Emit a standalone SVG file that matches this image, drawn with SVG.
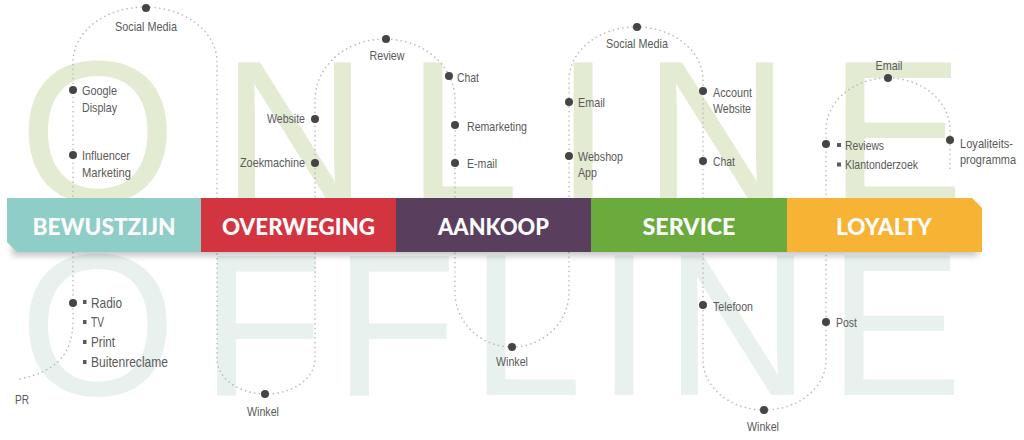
<svg xmlns="http://www.w3.org/2000/svg" width="1024" height="440" viewBox="0 0 1024 440">
<defs>
<style>
.bgon{font-family:"Liberation Sans",Arial,sans-serif;font-size:202px;fill:#e3ebd2}
.bgoff{font-family:"Liberation Sans",Arial,sans-serif;font-size:202px;fill:#e8f1ee}
.lbl{font-family:"Liberation Sans",Arial,sans-serif;font-size:13px;fill:#5a5a5a}
.lst{font-family:"Liberation Sans",Arial,sans-serif;font-size:15px;fill:#5a5a5a}
.stg{font-family:Lato,"Open Sans","Liberation Sans",sans-serif;font-weight:900;font-size:23px;fill:#fbfbfb;text-anchor:middle}
.dot{fill:#454545}
.bul{fill:#5a5a5a}
.route{fill:none;stroke:#b9b9b9;stroke-width:1.6;stroke-dasharray:0.1 4.6;stroke-linecap:round}
</style>
<filter id="sh" x="-5%" y="-30%" width="110%" height="180%">
<feGaussianBlur stdDeviation="3"/>
</filter>
</defs>
<rect width="1024" height="440" fill="#ffffff"/>
<g id="bg-online">
<text class="bgon" y="202"><tspan x="19.3">O</tspan><tspan x="221.6">N</tspan><tspan x="407">L</tspan><tspan x="555">I</tspan><tspan x="643.6">N</tspan><tspan x="829">E</tspan></text>
</g>
<g id="bg-offline">
<text class="bgoff" y="395"><tspan x="19.3">O</tspan><tspan x="200.4">F</tspan><tspan x="333.4">F</tspan><tspan x="470">L</tspan><tspan x="596">I</tspan><tspan x="664.6">N</tspan><tspan x="828">E</tspan></text>
</g>
<g id="connectors">
<path class="route" d="M 20 379 C 50 372 73 360 73 320 L 73 62 A 72 55 0 0 1 217 62 L 217 359 A 49 35 0 0 0 315 359 L 315 100 A 70 61 0 0 1 455 100 L 455 292 A 57 55 0 0 0 569 292 L 569 80 A 67 53 0 0 1 703 80 L 703 360 A 61.5 50 0 0 0 826 360 L 826 130 A 62 52 0 0 1 950 130 L 950 170"/>
</g>
<g id="banner">
<rect x="12" y="204" width="966" height="52" fill="#000" opacity="0.22" filter="url(#sh)"/>
<g id="stage-bewustzijn">
<polygon points="7,198 201.5,198 201.5,252 17,252 7,242" fill="#8fcdc7"/>
<text class="stg" x="104" y="235" textLength="143" lengthAdjust="spacingAndGlyphs">BEWUSTZIJN</text>
</g>
<g id="stage-overweging">
<rect x="201" y="198" width="195.5" height="54" fill="#d23540"/>
<text class="stg" x="298.5" y="235" textLength="153" lengthAdjust="spacingAndGlyphs">OVERWEGING</text>
</g>
<g id="stage-aankoop">
<rect x="396" y="198" width="195.5" height="54" fill="#5a3e5d"/>
<text class="stg" x="493.5" y="235" textLength="111" lengthAdjust="spacingAndGlyphs">AANKOOP</text>
</g>
<g id="stage-service">
<rect x="591" y="198" width="196.5" height="54" fill="#6bab3d"/>
<text class="stg" x="689" y="235" textLength="93" lengthAdjust="spacingAndGlyphs">SERVICE</text>
</g>
<g id="stage-loyalty">
<polygon points="787,198 972,198 982,208 982,252 787,252" fill="#f7b334"/>
<text class="stg" x="884" y="235" textLength="96" lengthAdjust="spacingAndGlyphs">LOYALTY</text>
</g>
</g>
<g id="tp-social-media-1"><circle class="dot" cx="146" cy="8" r="4"/><text class="lbl" x="146" y="31" text-anchor="middle" textLength="62" lengthAdjust="spacingAndGlyphs">Social Media</text></g>
<g id="tp-google-display"><circle class="dot" cx="73" cy="90" r="4"/><text class="lbl" x="82" y="95" textLength="35" lengthAdjust="spacingAndGlyphs">Google</text><text class="lbl" x="82" y="112" textLength="35" lengthAdjust="spacingAndGlyphs">Display</text></g>
<g id="tp-influencer"><circle class="dot" cx="73" cy="155" r="4"/><text class="lbl" x="82" y="160" textLength="48" lengthAdjust="spacingAndGlyphs">Influencer</text><text class="lbl" x="82" y="177" textLength="49" lengthAdjust="spacingAndGlyphs">Marketing</text></g>
<g id="tp-website"><circle class="dot" cx="315" cy="119" r="4"/><text class="lbl" x="305" y="123" text-anchor="end" textLength="38" lengthAdjust="spacingAndGlyphs">Website</text></g>
<g id="tp-zoekmachine"><circle class="dot" cx="315" cy="163" r="4"/><text class="lbl" x="305" y="167" text-anchor="end" textLength="65" lengthAdjust="spacingAndGlyphs">Zoekmachine</text></g>
<g id="tp-review"><circle class="dot" cx="386" cy="39" r="4"/><text class="lbl" x="387" y="60" text-anchor="middle" textLength="35" lengthAdjust="spacingAndGlyphs">Review</text></g>
<g id="tp-chat-1"><circle class="dot" cx="449" cy="76" r="4"/><text class="lbl" x="457" y="82" textLength="22" lengthAdjust="spacingAndGlyphs">Chat</text></g>
<g id="tp-remarketing"><circle class="dot" cx="455" cy="125" r="4"/><text class="lbl" x="467" y="131" textLength="60" lengthAdjust="spacingAndGlyphs">Remarketing</text></g>
<g id="tp-e-mail"><circle class="dot" cx="455" cy="163" r="4"/><text class="lbl" x="467" y="168" textLength="30" lengthAdjust="spacingAndGlyphs">E-mail</text></g>
<g id="tp-social-media-2"><circle class="dot" cx="637" cy="27" r="4"/><text class="lbl" x="637" y="48" text-anchor="middle" textLength="62" lengthAdjust="spacingAndGlyphs">Social Media</text></g>
<g id="tp-email-2"><circle class="dot" cx="569" cy="102" r="4"/><text class="lbl" x="578" y="107" textLength="27" lengthAdjust="spacingAndGlyphs">Email</text></g>
<g id="tp-webshop"><circle class="dot" cx="569" cy="156" r="4"/><text class="lbl" x="578" y="161" textLength="45" lengthAdjust="spacingAndGlyphs">Webshop</text><text class="lbl" x="578" y="177" textLength="19" lengthAdjust="spacingAndGlyphs">App</text></g>
<g id="tp-account"><circle class="dot" cx="703" cy="91" r="4"/><text class="lbl" x="713" y="97" textLength="39" lengthAdjust="spacingAndGlyphs">Account</text><text class="lbl" x="713" y="113" textLength="38" lengthAdjust="spacingAndGlyphs">Website</text></g>
<g id="tp-chat-2"><circle class="dot" cx="703" cy="161" r="4"/><text class="lbl" x="713" y="166" textLength="22" lengthAdjust="spacingAndGlyphs">Chat</text></g>
<g id="tp-email-3"><circle class="dot" cx="888" cy="78" r="4"/><text class="lbl" x="889" y="70" text-anchor="middle" textLength="27" lengthAdjust="spacingAndGlyphs">Email</text></g>
<g id="tp-reviews"><circle class="dot" cx="826" cy="144" r="4"/><rect class="bul" x="837" y="143" width="4" height="4"/><text class="lbl" x="845" y="150" textLength="39" lengthAdjust="spacingAndGlyphs">Reviews</text><rect class="bul" x="837" y="162.5" width="4" height="4"/><text class="lbl" x="845" y="169" textLength="73" lengthAdjust="spacingAndGlyphs">Klantonderzoek</text></g>
<g id="tp-loyaliteit"><circle class="dot" cx="950" cy="140" r="4"/><text class="lbl" x="960" y="148" textLength="53" lengthAdjust="spacingAndGlyphs">Loyaliteits-</text><text class="lbl" x="960" y="164" textLength="56" lengthAdjust="spacingAndGlyphs">programma</text></g>
<g id="tp-radio"><circle class="dot" cx="73" cy="303" r="4"/><rect class="bul" x="83" y="300" width="3.5" height="4"/><text class="lst" x="91" y="308" textLength="31" lengthAdjust="spacingAndGlyphs">Radio</text><rect class="bul" x="83" y="320" width="3.5" height="4"/><text class="lst" x="91" y="327" textLength="13" lengthAdjust="spacingAndGlyphs">TV</text><rect class="bul" x="83" y="340" width="3.5" height="4"/><text class="lst" x="91" y="347" textLength="24" lengthAdjust="spacingAndGlyphs">Print</text><rect class="bul" x="83" y="360" width="3.5" height="4"/><text class="lst" x="91" y="367" textLength="77" lengthAdjust="spacingAndGlyphs">Buitenreclame</text></g>
<g id="tp-pr"><text class="lbl" x="15" y="404" textLength="14" lengthAdjust="spacingAndGlyphs">PR</text></g>
<g id="tp-winkel-1"><circle class="dot" cx="265" cy="394" r="4"/><text class="lbl" x="263" y="416" text-anchor="middle" textLength="32" lengthAdjust="spacingAndGlyphs">Winkel</text></g>
<g id="tp-winkel-2"><circle class="dot" cx="512" cy="347" r="4"/><text class="lbl" x="512" y="366" text-anchor="middle" textLength="32" lengthAdjust="spacingAndGlyphs">Winkel</text></g>
<g id="tp-telefoon"><circle class="dot" cx="703" cy="305" r="4"/><text class="lbl" x="713" y="311" textLength="40" lengthAdjust="spacingAndGlyphs">Telefoon</text></g>
<g id="tp-post"><circle class="dot" cx="826" cy="322" r="4"/><text class="lbl" x="836" y="327" textLength="21" lengthAdjust="spacingAndGlyphs">Post</text></g>
<g id="tp-winkel-3"><circle class="dot" cx="764" cy="410" r="4"/><text class="lbl" x="763" y="431" text-anchor="middle" textLength="32" lengthAdjust="spacingAndGlyphs">Winkel</text></g>
</svg>
